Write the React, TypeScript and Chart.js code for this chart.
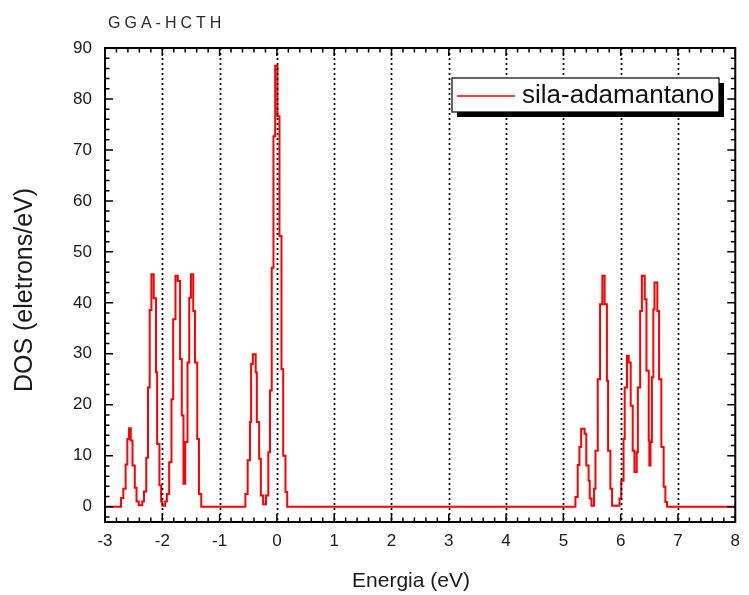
import React, { useEffect, useRef } from 'react';
import { Chart, registerables } from 'chart.js';

Chart.register(...registerables);

// ---- data (step edges: level starts at the given energy) ----
const energies = [
  -3.0, -2.72, -2.68, -2.64, -2.61, -2.58, -2.55, -2.52, -2.48, -2.45, -2.41,
  -2.35, -2.32, -2.28, -2.25, -2.22, -2.19, -2.15, -2.11, -2.09, -2.05, -2.02,
  -2.0, -1.95, -1.92, -1.88, -1.84, -1.81, -1.77, -1.73, -1.69, -1.66, -1.63,
  -1.6, -1.56, -1.53, -1.5, -1.46, -1.43, -1.39, -1.36, -1.32,
  -0.55, -0.51, -0.47, -0.45, -0.42, -0.37, -0.35, -0.31, -0.28, -0.24,
  -0.19, -0.15, -0.12, -0.09, -0.06, -0.03, 0.01, 0.045, 0.08, 0.11, 0.15, 0.18,
  5.21, 5.25, 5.28, 5.31, 5.37, 5.4, 5.44, 5.46, 5.49, 5.535, 5.56, 5.6, 5.64,
  5.68, 5.72, 5.76, 5.78, 5.82, 5.85, 5.98, 6.01, 6.05, 6.07, 6.11, 6.14, 6.175,
  6.21, 6.24, 6.28, 6.3, 6.34, 6.37, 6.42, 6.45, 6.49, 6.5, 6.52, 6.545, 6.57,
  6.59, 6.64, 6.67, 6.71, 6.75, 6.78, 6.81, 8.0,
];
const dos = [
  0, 1.7, 3.5, 8.3, 13.3, 15.4, 13.0, 8.1, 3.7, 1.0, 0.3,
  1.0, 3.0, 9.6, 23.4, 38.6, 45.6, 40.9, 26.4, 12.3, 4.2, 1.0,
  0.2, 1.0, 2.5, 8.7, 21.1, 36.8, 45.3, 44.3, 29.0, 17.9, 4.5,
  12.7, 28.3, 41.0, 45.6, 38.4, 28.3, 13.3, 2.5, 0,
  2.5, 9.1, 16.6, 28.0, 29.9, 26.4, 16.6, 9.4, 2.2, 0.5,
  2.2, 10.7, 22.8, 46.9, 72.7, 86.5, 76.6, 53.1, 27.0, 10.0, 2.9, 0,
  1.9, 8.2, 11.7, 15.3, 14.3, 8.1, 5.1, 1.6, 0.2, 3.5, 11.0, 25.0, 39.7,
  45.3, 39.7, 24.7, 11.0, 3.5, 0.2, 1.6, 5.1, 13.3, 23.4, 29.6, 28.3, 19.8,
  11.0, 6.8, 10.7, 23.4, 38.4, 45.3, 40.7, 26.7, 13.0, 8.1, 12.7, 25.4, 38.7,
  44.0, 38.4, 25.0, 11.7, 3.9, 0.9, 0, 0,
];

const xTicks = [-3, -2, -1, 0, 1, 2, 3, 4, 5, 6, 7, 8];
const yTicks = [0, 10, 20, 30, 40, 50, 60, 70, 80, 90];
const xRange = [-3, 8];
const yRange = [-3, 90];
const xMinorStep = 0.2;
const yMinorStep = 2;

const seriesLabel = 'sila-adamantano';
const chartTitle = 'GGA-HCTH';
const xTitle = 'Energia (eV)';
const yTitle = 'DOS (eletrons/eV)';

const FONT = '"Liberation Sans", Arial, sans-serif';

const framePlugin = {
  id: 'originFrame',
  afterDatasetsDraw(chart: any) {
    const { ctx, chartArea: a, scales } = chart;
    const xs = scales.x;
    const ys = scales.y;
    ctx.save();
    // dotted vertical grid
    ctx.strokeStyle = '#000';
    ctx.lineWidth = 1.7;
    ctx.setLineDash([2, 3]);
    xTicks.forEach((v) => {
      if (v <= xRange[0] || v >= xRange[1]) return;
      const px = Math.round(xs.getPixelForValue(v)) + 0.5;
      ctx.beginPath();
      ctx.moveTo(px, a.top);
      ctx.lineTo(px, a.bottom);
      ctx.stroke();
    });
    ctx.setLineDash([]);

    // ticks (inward, all four sides)
    ctx.lineWidth = 1.5;
    const major = 8;
    const minor = 4.5;
    const nX = Math.round((xRange[1] - xRange[0]) / xMinorStep);
    for (let i = 0; i <= nX; i++) {
      const v = xRange[0] + i * xMinorStep;
      const isMajor = Math.abs(v - Math.round(v)) < 1e-6;
      const len = isMajor ? major : minor;
      const px = xs.getPixelForValue(v);
      ctx.beginPath();
      ctx.moveTo(px, a.bottom);
      ctx.lineTo(px, a.bottom - len);
      ctx.moveTo(px, a.top);
      ctx.lineTo(px, a.top + len);
      ctx.stroke();
    }
    for (let v = -2; v <= yRange[1] + 1e-6; v += yMinorStep) {
      const isMajor = v % 10 === 0;
      const len = isMajor ? major : minor;
      const py = ys.getPixelForValue(v);
      ctx.beginPath();
      ctx.moveTo(a.left, py);
      ctx.lineTo(a.left + len, py);
      ctx.moveTo(a.right, py);
      ctx.lineTo(a.right - len, py);
      ctx.stroke();
    }

    // frame
    ctx.lineWidth = 2;
    ctx.strokeRect(a.left, a.top, a.right - a.left, a.bottom - a.top);
    ctx.restore();
  },
  afterDraw(chart: any) {
    const { ctx } = chart;
    ctx.save();
    // legend with shadow
    const lx = 452, ly = 78, lw = 267, lh = 34;
    ctx.fillStyle = '#000';
    ctx.fillRect(lx + 5, ly + 5, lw, lh);
    ctx.fillStyle = '#fff';
    ctx.fillRect(lx, ly, lw, lh);
    ctx.strokeStyle = '#000';
    ctx.lineWidth = 1.2;
    ctx.strokeRect(lx, ly, lw, lh);
    ctx.strokeStyle = '#ff0000';
    ctx.lineWidth = 1.5;
    ctx.beginPath();
    ctx.moveTo(457, 96);
    ctx.lineTo(515, 96);
    ctx.stroke();
    ctx.fillStyle = '#111';
    ctx.font = `26px ${FONT}`;
    ctx.textAlign = 'left';
    ctx.textBaseline = 'middle';
    ctx.fillText(seriesLabel, 522, 96);

    // top-left title
    ctx.fillStyle = '#2a2a2a';
    ctx.font = `16px ${FONT}`;
    (ctx as any).letterSpacing = '4px';
    ctx.textAlign = 'left';
    ctx.textBaseline = 'middle';
    ctx.fillText(chartTitle, 108, 24);
    (ctx as any).letterSpacing = '0px';

    // x title
    ctx.fillStyle = '#1a1a1a';
    ctx.font = `21px ${FONT}`;
    ctx.textAlign = 'center';
    ctx.textBaseline = 'middle';
    ctx.fillText(xTitle, 411, 581);

    // y title
    ctx.translate(25, 290);
    ctx.rotate(-Math.PI / 2);
    ctx.font = `25px ${FONT}`;
    ctx.fillText(yTitle, 0, 0);
    ctx.restore();
  },
};

export default function App() {
  const ref = useRef<HTMLCanvasElement | null>(null);
  useEffect(() => {
    if (!ref.current) return;
    const points = energies.map((e, i) => ({ x: e, y: dos[i] }));
    const chart = new Chart(ref.current, {
      type: 'line',
      data: {
        datasets: [
          {
            label: seriesLabel,
            data: points,
            borderColor: '#ff0000',
            borderWidth: 2,
            pointRadius: 0,
            stepped: 'before',
            fill: false,
          },
        ],
      },
      options: {
        animation: false,
        responsive: false,
        devicePixelRatio: 1,
        layout: { padding: { left: 0, top: 48, right: 8, bottom: 0 } },
        plugins: { legend: { display: false }, tooltip: { enabled: false }, title: { display: false } },
        scales: {
          x: {
            type: 'linear',
            min: xRange[0],
            max: xRange[1],
            grid: { display: false, drawTicks: false },
            border: { display: false },
            afterBuildTicks: (s: any) => {
              s.ticks = xTicks.map((v) => ({ value: v }));
            },
            afterFit: (s: any) => {
              s.height = 73;
            },
            ticks: {
              padding: 9,
              color: '#1a1a1a',
              font: { family: FONT, size: 17 },
              maxRotation: 0,
              autoSkip: false,
            },
          },
          y: {
            type: 'linear',
            min: yRange[0],
            max: yRange[1],
            grid: { display: false, drawTicks: false },
            border: { display: false },
            afterBuildTicks: (s: any) => {
              s.ticks = yTicks.map((v) => ({ value: v }));
            },
            afterFit: (s: any) => {
              s.width = 105;
            },
            ticks: {
              padding: 13,
              color: '#1a1a1a',
              font: { family: FONT, size: 17 },
              autoSkip: false,
            },
          },
        },
      },
      plugins: [framePlugin],
    });
    return () => chart.destroy();
  }, []);
  return (
    <div style={{ position: 'fixed', left: 0, top: 0, width: 749, height: 595, background: '#fff' }}>
      <canvas ref={ref} width={749} height={595} style={{ width: 749, height: 595, display: 'block' }} />
    </div>
  );
}
